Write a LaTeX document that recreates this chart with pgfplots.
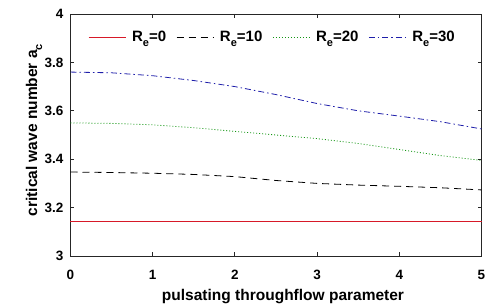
\documentclass[border=0pt]{standalone}
\usepackage{pgfplots}
\pgfplotsset{compat=1.18}
\usepackage{fontspec}
\setmainfont{Liberation Sans}
\definecolor{axgray}{RGB}{38,38,38}
\definecolor{myred}{RGB}{215,25,40}
\definecolor{mygreen}{RGB}{20,150,20}
\definecolor{myblue}{RGB}{30,30,170}
\newcommand{\ReN}[1]{R\raisebox{-5pt}{\fontsize{11}{11}\selectfont e}=#1}
\begin{document}
\begin{tikzpicture}
\begin{axis}[
  scale only axis, width=411pt, height=242pt,
  xmin=0, xmax=5, ymin=3, ymax=4, clip=false,
  xtick={0,1,2,3,4,5}, ytick={3,3.2,3.4,3.6,3.8,4},
  yticklabel style={/pgf/number format/fixed,/pgf/number format/precision=1},
  /pgf/number format/assume math mode=true,
  tick align=inside, major tick length=4pt,
  axis line style={draw=axgray, line width=0.8pt},
  tick style={draw=axgray, line width=0.8pt},
  ticklabel style={font=\fontsize{13.5}{14}\selectfont\bfseries},
  yticklabel style={inner sep=0pt, xshift=-7pt},
  xticklabel style={inner sep=0pt, yshift=-14pt},
  label style={font=\fontsize{15.5}{16}\selectfont\bfseries},
  xlabel={pulsating throughflow parameter},
  ylabel={critical wave number a\raisebox{-5pt}{\fontsize{11}{11}\selectfont c}},
  xlabel style={at={(axis description cs:0.517,-0.182)}, anchor=base},
  ylabel style={at={(axis description cs:-0.0815,0.52)}, anchor=base},
  legend columns=4,
  legend style={at={(axis description cs:0.0426,0.905)}, anchor=west,
    fill=none, draw=none, inner sep=0pt, font=\fontsize{15}{16}\selectfont\bfseries,
    nodes={inner sep=0pt},
    /tikz/every odd column/.append style={column sep=6pt},
    /tikz/every even column/.append style={column sep=10pt}},
]
\addplot[forget plot, draw=axgray, line width=0.1pt] coordinates {(0,3) (5,3)};
\addplot[draw=myred, line width=0.9pt,
  legend image code/.code={\color{myred}\draw[draw=myred, line width=0.9pt] (0pt,0pt) -- (37pt,0pt);}]
  coordinates {(0,3.1416) (5,3.1416)};
\addlegendentry{\ReN{0}}
\addplot[draw=black, line width=0.8pt, dash pattern=on 7pt off 5pt,
  legend image code/.code={\color{black}\draw[draw=black, line width=0.8pt, dash pattern=on 7pt off 5pt] (0pt,0pt) -- (37pt,0pt);}]
  coordinates {
(0,3.347) (0.5,3.345) (1,3.342) (1.5,3.337) (2,3.328) (2.5,3.312) (3,3.30) (3.5,3.293) (4,3.288) (4.5,3.282) (5,3.273)};
\addlegendentry{\ReN{10}}
\addplot[draw=mygreen, line width=0.8pt, dash pattern=on 1pt off 2pt,
  legend image code/.code={\color{mygreen}\draw[draw=mygreen, line width=0.8pt, dash pattern=on 1pt off 2pt] (0pt,0pt) -- (37pt,0pt);}]
  coordinates {
(0,3.55) (0.5,3.548) (1,3.542) (1.5,3.53) (2,3.515) (2.5,3.50) (3,3.485) (3.5,3.465) (4,3.44) (4.5,3.415) (5,3.395)};
\addlegendentry{\ReN{20}}
\addplot[draw=myblue, line width=0.8pt, dash pattern=on 6pt off 3pt on 1.5pt off 3pt,
  legend image code/.code={\color{myblue}\draw[draw=myblue, line width=0.8pt, dash pattern=on 6pt off 3pt on 1.5pt off 3pt] (0pt,0pt) -- (37pt,0pt);}]
  coordinates {
(0,3.76) (0.5,3.757) (1,3.745) (1.5,3.725) (2,3.70) (2.5,3.667) (3,3.63) (3.5,3.60) (4,3.578) (4.5,3.555) (5,3.525)};
\addlegendentry{\ReN{30}}
\end{axis}
\path[use as bounding box] (-70.5pt,-51pt) rectangle (416.5pt,256pt);
\end{tikzpicture}
\end{document}
